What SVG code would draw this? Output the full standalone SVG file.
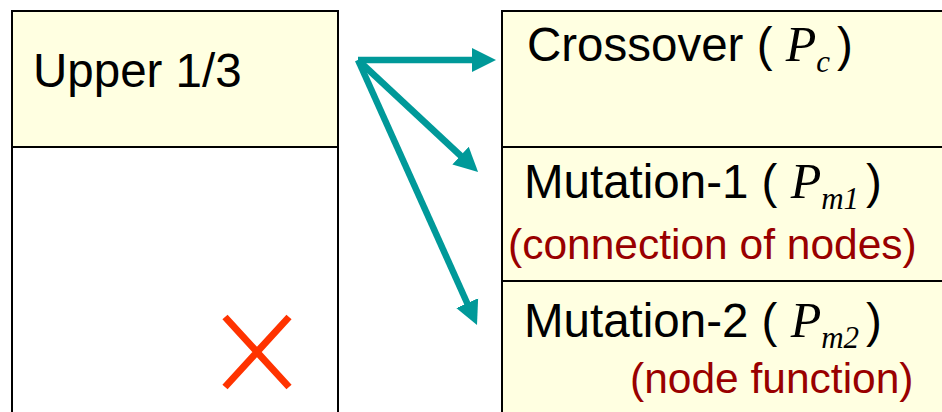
<svg xmlns="http://www.w3.org/2000/svg" width="942" height="412" viewBox="0 0 942 412">
  <style>
    .box { stroke: #000; stroke-width: 2; }
    .yellow { fill: #FFFFE1; }
    .white { fill: #FFFFFF; }
    .label { font-family: "Liberation Sans", Arial, sans-serif; font-size: 47.5px; fill: #000; }
    .note { font-family: "Liberation Sans", Arial, sans-serif; font-size: 42.5px; fill: #990000; }
    .sym { font-family: "Liberation Serif", "Times New Roman", serif; font-style: italic; font-size: 50px; }
    .sub { font-family: "Liberation Serif", "Times New Roman", serif; font-style: italic; font-size: 31px; }
    .arrow { stroke: #009999; stroke-width: 6.5; fill: none; }
  </style>
  <defs>
    <marker id="head" markerUnits="userSpaceOnUse" markerWidth="28" markerHeight="28" viewBox="0 -14 28 28" refX="2" refY="0" orient="auto">
      <path d="M0,-12 L24,0 L0,12 Z" fill="#009999"/>
    </marker>
  </defs>

  <rect width="942" height="412" fill="#FFFFFF"/>

  <!-- left column: selected upper third and the rest -->
  <g id="upper">
    <rect class="box yellow" x="12" y="11" width="326" height="136"/>
    <text class="label" x="33" y="87">Upper 1/3</text>
  </g>
  <g id="lower">
    <rect class="box white" x="12" y="147" width="326" height="270"/>
    <path d="M225,317 L289,387 M289,317 L225,387" stroke="#FF3300" stroke-width="7" fill="none"/>
  </g>

  <!-- right column: genetic operators -->
  <g id="crossover">
    <rect class="box yellow" x="502" y="11" width="450" height="136"/>
    <text class="label" x="527" y="61">Crossover ( <tspan class="sym">P</tspan><tspan class="sub" dy="11">c</tspan><tspan dx="7" dy="-11">)</tspan></text>
  </g>
  <g id="mutation1">
    <rect class="box yellow" x="502" y="147" width="450" height="134"/>
    <text class="label" x="524" y="198">Mutation-1 ( <tspan class="sym">P</tspan><tspan class="sub" dy="11">m1</tspan><tspan dx="7" dy="-11">)</tspan></text>
    <text class="note" x="508" y="259">(connection of nodes)</text>
  </g>
  <g id="mutation2">
    <rect class="box yellow" x="502" y="281" width="450" height="136"/>
    <text class="label" x="524" y="337">Mutation-2 ( <tspan class="sym">P</tspan><tspan class="sub" dy="11">m2</tspan><tspan dx="7" dy="-11">)</tspan></text>
    <text class="note" x="630" y="393">(node function)</text>
  </g>

  <!-- connectors -->
  <g id="connectors">
    <line class="arrow" x1="358" y1="60" x2="474" y2="60" marker-end="url(#head)"/>
    <line class="arrow" x1="358" y1="60" x2="462" y2="157" marker-end="url(#head)"/>
    <line class="arrow" x1="358" y1="60" x2="468" y2="305" marker-end="url(#head)"/>
  </g>
</svg>
